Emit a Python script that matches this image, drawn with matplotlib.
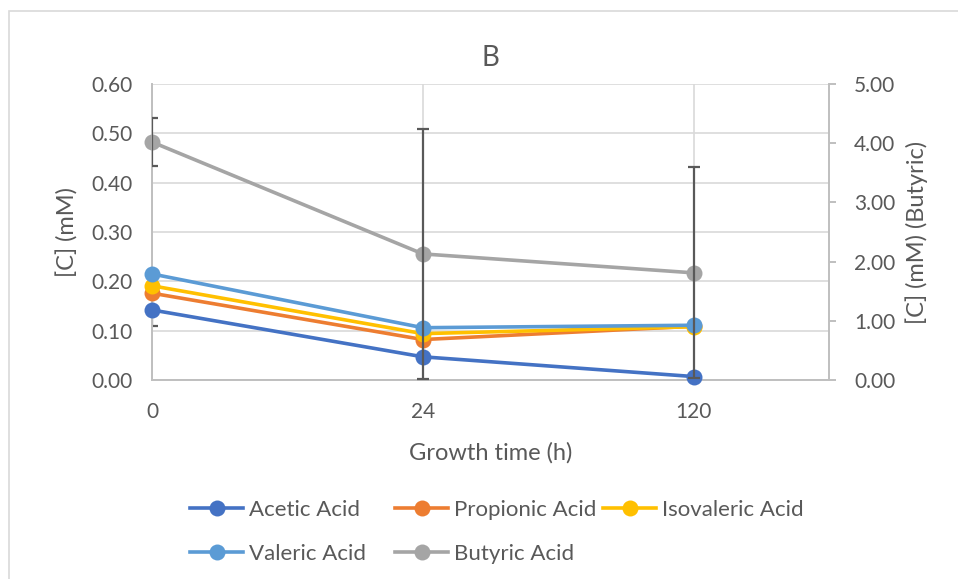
import numpy as np
import matplotlib
matplotlib.use("Agg")
import matplotlib.pyplot as plt
from matplotlib.patches import Rectangle
from matplotlib.ticker import FormatStrFormatter, MultipleLocator

plt.rcParams['font.family'] = ['Lato', 'DejaVu Sans']

# Sampling times (h) shown as evenly spaced categories
times = ["0", "24", "120"]

# Concentrations (mM), left axis
acetic = [0.142, 0.047, 0.007]
propionic = [0.176, 0.082, 0.109]
isovaleric = [0.191, 0.094, 0.108]
valeric = [0.215, 0.106, 0.111]
acetic_err = [0.032, 0.0, 0.0]

# Butyric acid (mM), right axis
butyric = [4.02, 2.13, 1.81]
butyric_err = [0.41, 2.11, 1.78]

series_left = [
    ("Acetic Acid", acetic, "#4472C4"),
    ("Propionic Acid", propionic, "#ED7D31"),
    ("Isovaleric Acid", isovaleric, "#FFC000"),
    ("Valeric Acid", valeric, "#5B9BD5"),
]
butyric_color = "#A5A5A5"

text_color = "#595959"
axis_color = "#BFBFBF"
grid_color = "#D9D9D9"
err_color = "#595959"

W, H = 958, 579
fig = plt.figure(figsize=(W / 100, H / 100), dpi=100)

# Chart frame
fig.patches.append(Rectangle((9 / W, -0.05), 1.2, 1 - 11 / H + 0.05,
                             transform=fig.transFigure, fill=False,
                             edgecolor=grid_color, linewidth=1.2))

left, right, top, bottom = 152, 829, 84, 380
ax = fig.add_axes([left / W, 1 - bottom / H, (right - left) / W, (bottom - top) / H])
ax2 = ax.twinx()

x = np.arange(len(times))
lw = 2.6
ms = 11.5

handles = {}
for name, vals, color in series_left:
    (h,) = ax.plot(x, vals, color=color, lw=lw, marker='o', ms=ms,
                   markeredgewidth=0, label=name, clip_on=False, zorder=3)
    handles[name] = h

# Error bar on acetic acid where a spread was measured
acetic_err_arr = np.array(acetic_err)
mask = acetic_err_arr > 0
ax.errorbar(x[mask], np.array(acetic)[mask], yerr=acetic_err_arr[mask], fmt='none',
            ecolor=err_color, elinewidth=1.6, capsize=4.5, capthick=1.6, zorder=2)

(hb,) = ax2.plot(x, butyric, color=butyric_color, lw=lw, marker='o', ms=ms,
                 markeredgewidth=0, label="Butyric Acid", clip_on=False, zorder=3)
handles["Butyric Acid"] = hb
ax2.errorbar(x, butyric, yerr=butyric_err, fmt='none', ecolor=err_color,
             elinewidth=1.6, capsize=4.5, capthick=1.6, zorder=4)

ax.set_xlim(0, 2.5)
ax.set_ylim(0, 0.6)
ax2.set_ylim(0, 5)
ax.yaxis.set_major_locator(MultipleLocator(0.1))
ax2.yaxis.set_major_locator(MultipleLocator(1.0))
ax.yaxis.set_major_formatter(FormatStrFormatter('%.2f'))
ax2.yaxis.set_major_formatter(FormatStrFormatter('%.2f'))
ax.set_xticks(x)
ax.set_xticklabels(times)

ax.grid(True, color=grid_color, lw=1.2)
ax.set_axisbelow(True)

for a in (ax, ax2):
    for s in a.spines.values():
        s.set_visible(False)
ax.spines['left'].set_visible(True)
ax.spines['bottom'].set_visible(True)
ax2.spines['right'].set_visible(True)
for s in (ax.spines['left'], ax.spines['bottom'], ax2.spines['right']):
    s.set_color(axis_color)
    s.set_linewidth(1.4)

tick_fs = 15
text_fs = 17
legend_fs = 16
ax.tick_params(axis='y', length=0, pad=14, labelsize=tick_fs, labelcolor=text_color)
ax.tick_params(axis='x', length=0, pad=16, labelsize=tick_fs, labelcolor=text_color)
ax2.tick_params(axis='y', length=5, width=1.4, color=axis_color, pad=13,
                labelsize=tick_fs, labelcolor=text_color)

ax.set_ylabel("[C] (mM)", fontsize=text_fs, color=text_color, labelpad=9)
ax2.set_ylabel("[C] (mM) (Butyric)", fontsize=text_fs, color=text_color, labelpad=7)
ax.set_xlabel("Growth time (h)", fontsize=text_fs, color=text_color, labelpad=14)

fig.text(490 / W, 1 - 58 / H, "B", ha='center', va='center', fontsize=20,
         color=text_color)

# Legend laid out as three columns, filled row by row
legend_columns = [
    (190, ["Acetic Acid", "Valeric Acid"]),
    (395, ["Propionic Acid", "Butyric Acid"]),
    (603, ["Isovaleric Acid"]),
]
for x_px, names in legend_columns:
    leg = fig.legend([handles[n] for n in names], names, ncol=1, loc='upper left',
                     bbox_to_anchor=(x_px / W, 1 - 500 / H), frameon=False,
                     fontsize=legend_fs, handlelength=2.4, handletextpad=0.27,
                     labelspacing=1.07, borderpad=0, borderaxespad=0)
    for t in leg.get_texts():
        t.set_color(text_color)

fig.savefig("out.png", dpi=100)
